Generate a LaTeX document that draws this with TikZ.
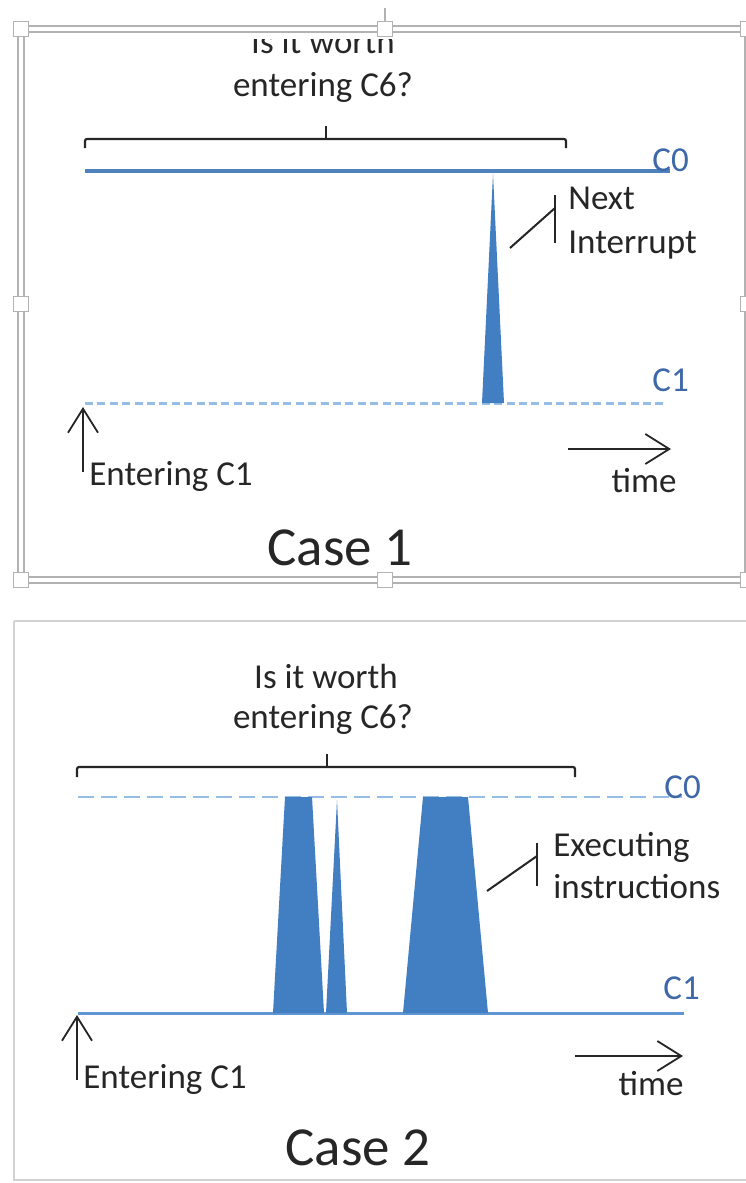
\documentclass[tikz,border=0pt]{standalone}
\usepackage{fontspec}
\setmainfont{Carlito}
\usetikzlibrary{arrows.meta}
\definecolor{fillblue}{RGB}{66,126,194}
\definecolor{lineblue}{RGB}{79,129,189}
\definecolor{labelblue}{RGB}{62,104,168}
\definecolor{lightblue}{RGB}{150,190,228}
\definecolor{c1blue}{RGB}{96,150,210}
\definecolor{txtgray}{RGB}{38,38,38}
\begin{document}
\begin{tikzpicture}[x=0.5pt,y=-0.5pt,
  txt/.style={inner sep=0pt, text=txtgray, font=\fontsize{17.5}{21}\selectfont},
  lbl/.style={inner sep=0pt, text=labelblue, font=\fontsize{17.5}{21}\selectfont},
  casetxt/.style={inner sep=0pt, text=txtgray, font=\fontsize{27.5}{33}\selectfont},
  brace/.style={draw=txtgray, line width=1.1pt, rounded corners=1pt},
  arr/.style={draw=txtgray, line width=0.9pt, -{Straight Barb[length=12pt,width=15pt,line width=0.9pt]}},
  leader/.style={draw=txtgray, line width=1pt},
  handle/.style={draw=gray!60, fill=white, line width=0.6pt, minimum size=7.5pt, inner sep=0pt},
  selframe/.style={draw=gray!60, line width=0.8pt, double=white, double distance=2.2pt},
  frame2/.style={draw=gray!35, line width=1pt}]
\useasboundingbox (0,0) rectangle (745,1183);
\fill[white] (0,0) rectangle (745,1183);

% ---------------- Panel 1 ----------------
\draw[selframe] (21,29) rectangle (748,580);
\begin{scope}
  \clip (24,39) rectangle (742,577);
  \node[txt, anchor=base] (q1a) at (323,54) {Is it worth};
\end{scope}
\node[txt, anchor=base] (q1b) at (323,96) {entering C6?};
\draw[brace] (85,148) -- (85,139) -- (566,139) -- (566,148);
\draw[brace] (326,139) -- (326,126);

\draw[lineblue, line width=2pt] (85,171) -- (670,171);
\draw[lightblue, line width=1.5pt, dash pattern=on 4pt off 2.2pt] (85,403) -- (667,403);
\node[lbl, anchor=base west] (c0a) at (652,171) {C0};
\node[lbl, anchor=base west] (c1a) at (652,391) {C1};

\fill[fillblue] (482,403) -- (493,174) -- (504,403) -- cycle;

\node[txt, anchor=base west] (ni1) at (568,209) {Next};
\node[txt, anchor=base west] (ni2) at (568,253) {Interrupt};
\coordinate (l1t) at (555,195);
\coordinate (l1b) at (555,243);
\coordinate (l1m) at (555,208);
\coordinate (l1e) at (510,248);
\draw[leader] (l1t) -- (l1b);
\draw[leader] (l1m) -- (l1e);

\coordinate (e1b) at (83,472);
\coordinate (e1t) at (83,407);
\draw[arr] (e1b) -- (e1t);
\node[txt, anchor=base west] (ent1) at (89,485) {Entering C1};
\coordinate (t1a) at (568,449);
\coordinate (t1b) at (671,449);
\draw[arr] (t1a) -- (t1b);
\node[txt, anchor=base] (time1) at (644,492) {time};
\node[casetxt, anchor=base] (case1) at (340,565) {Case 1};

% selection handles
\node[handle] (h1) at (21,29) {};
\node[handle] (h2) at (385,29) {};
\node[handle] (h3) at (748,29) {};
\node[handle] (h4) at (21,304) {};
\node[handle] (h5) at (748,304) {};
\node[handle] (h6) at (21,580) {};
\node[handle] (h7) at (385,580) {};
\node[handle] (h8) at (748,580) {};
\coordinate (rot) at (385,8);
\draw[gray!60, line width=0.6pt] (rot) -- (h2.north);

% ---------------- Panel 2 ----------------
\draw[frame2] (14,621) -- (760,621);
\draw[frame2] (14,621) -- (14,1180) -- (760,1180);
\node[txt, anchor=base] (q2a) at (326,688) {Is it worth};
\node[txt, anchor=base] (q2b) at (323,728) {entering C6?};
\draw[brace] (77,777) -- (77,767) -- (575,767) -- (575,777);
\draw[brace] (327,767) -- (327,754);

\draw[lightblue, line width=1.3pt, dash pattern=on 8pt off 3.5pt] (78,797) -- (682,797);
\draw[c1blue, line width=1.5pt] (78,1013) -- (684,1013);
\node[lbl, anchor=base west] (c0b) at (664,798) {C0};
\node[lbl, anchor=base west] (c1b) at (663,999) {C1};

\fill[fillblue] (285,797) -- (312,797) -- (324,1013) -- (273,1013) -- cycle;
\fill[fillblue] (337,800) -- (347,1013) -- (326,1013) -- cycle;
\fill[fillblue] (423,797) -- (468,797) -- (488,1013) -- (403,1013) -- cycle;

\node[txt, anchor=base west] (ex1) at (553,856) {Executing};
\node[txt, anchor=base west] (ex2) at (553,898) {instructions};
\coordinate (l2t) at (537,843);
\coordinate (l2b) at (537,886);
\coordinate (l2m) at (537,856);
\coordinate (l2e) at (487,891);
\draw[leader] (l2t) -- (l2b);
\draw[leader] (l2m) -- (l2e);

\coordinate (e2b) at (77,1080);
\coordinate (e2t) at (77,1015);
\draw[arr] (e2b) -- (e2t);
\node[txt, anchor=base west] (ent2) at (83,1088) {Entering C1};
\coordinate (t2a) at (575,1056);
\coordinate (t2b) at (683,1056);
\draw[arr] (t2a) -- (t2b);
\node[txt, anchor=base] (time2) at (651,1095) {time};
\node[casetxt, anchor=base] (case2) at (358,1165) {Case 2};
\end{tikzpicture}
\end{document}
